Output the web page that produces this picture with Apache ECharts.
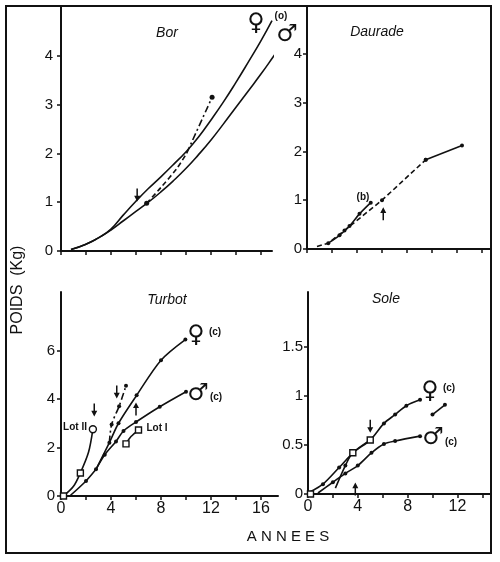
<!DOCTYPE html>
<html>
<head>
<meta charset="utf-8">
<script src="https://cdn.jsdelivr.net/npm/echarts@6/dist/echarts.min.js"></script>
<style>
html, body { margin: 0; background: #fff; }
#main { width: 500px; height: 562px; }
</style>
</head>
<body>
<div id="main"></div>
<script>
// --- data (years, kg) ---
var borFemale = [[0.8,0.03],[2,0.14],[3,0.27],[4,0.45],[5,0.74],[6,1.02],[7,1.28],[8,1.52],[9,1.77],[10,2.03],[11,2.33],[12,2.68],[13,3.05],[14,3.45],[15,3.87],[16,4.3],[16.9,4.72]];
var borMale = [[0.8,0.03],[2,0.14],[3,0.27],[4,0.43],[5,0.62],[6,0.81],[7,1.0],[8,1.21],[9,1.44],[10,1.69],[11,1.97],[12,2.27],[13,2.6],[14,2.94],[15,3.28],[16,3.62],[17,3.98],[17.6,4.2]];
var borDashed = [[6.86,0.98],[8,1.3],[9.3,1.7],[10.06,2.0]];
var borDashDot = [[10.06,2.0],[12.1,3.15]];
var borDots = [[6.86,0.98],[12.1,3.15]];
var borArrowsDown = [[6.1,1.15]];

var daurDashed = [[0.8,0.05],[1.7,0.12],[3.0,0.38],[6.0,1.0],[9.5,1.83]];
var daurB = [[1.7,0.12],[2.6,0.28],[3.4,0.47],[4.2,0.72],[5.1,0.95]];
var daurEnd = [[9.5,1.83],[12.4,2.12]];
var daurArrowsUp = [[6.1,0.72]];

var turBase = [[0.7,0],[2.0,0.62],[2.8,1.1]];
var turFemale = [[2.8,1.1],[3.87,2.2],[4.6,3.0],[6.05,4.15],[8.0,5.6],[9.95,6.45]];
var turMale = [[2.8,1.1],[3.5,1.7],[4.4,2.25],[5.0,2.68],[6.0,3.05],[7.9,3.68],[10.0,4.3]];
var turDashDot = [[3.87,2.2],[4.05,2.95],[4.65,3.7],[5.2,4.55]];
var turLotII = [[0.2,0],[1.0,0.4],[1.55,0.95],[2.2,1.8],[2.55,2.75]];
var turLotI = [[5.2,2.15],[5.6,2.45],[6.2,2.72]];
var turSquares = [[0.2,0],[1.55,0.95],[5.2,2.15],[6.2,2.72]];
var turCircles = [[2.55,2.75]];
var turArrowsDown = [[2.66,3.55],[4.46,4.29]];
var turArrowsUp = [[6.0,3.59]];

var soleFemale = [[0.15,0.02],[1.2,0.1],[2.5,0.27],[3.7,0.43],[5.0,0.55],[6.1,0.72],[7.0,0.81],[7.9,0.9],[9.0,0.96]];
var soleMale = [[0.8,0.01],[2.0,0.12],[3.0,0.21],[4.0,0.29],[5.1,0.42],[6.1,0.51],[7.0,0.54],[9.0,0.59]];
var soleLot = [[2.2,0.06],[3.0,0.29],[3.6,0.42],[5.0,0.55]];
var soleExtra = [[10.0,0.81],[11.0,0.91]];
var soleSquares = [[0.2,0],[3.6,0.42],[5.0,0.55]];
var soleArrowsDown = [[5.0,0.69]];
var soleArrowsUp = [[3.8,0.05]];

var yearTicks = [0,2,4,6,8,10,12,14,16];
var yearTicksShort = [0,2,4,6,8,10,12,14];
var turYearLabels = [0,4,8,12,16];
var soleYearLabels = [0,4,8,12];
var kgTicks = [0,1,2,3,4];
var turKgTicks = [0,2,4,6];
var soleKgTicks = [0,0.5,1,1.5];

var ink = '#111';
var arrowPath = 'path://M4,0 L6,0 L6,9 L9,9 L5,16 L1,9 L4,9 Z';

function xAx(grid, max, ticks, labels) {
    return {
        type: 'value', gridIndex: grid, min: 0, max: max,
        axisLine: { show: true, onZero: false, lineStyle: { color: ink, width: 2 } },
        axisTick: { show: true, length: 4, customValues: ticks, lineStyle: { color: ink, width: 1.5 } },
        axisLabel: { show: !!labels, customValues: labels || [], color: ink, fontSize: 16, margin: 5,
            fontFamily: 'Liberation Sans' },
        splitLine: { show: false }
    };
}
function yAx(grid, max, ticks, margin) {
    return {
        type: 'value', gridIndex: grid, min: 0, max: max,
        axisLine: { show: true, onZero: false, lineStyle: { color: ink, width: 2 } },
        axisTick: { show: true, length: 4, customValues: ticks, lineStyle: { color: ink, width: 1.5 } },
        axisLabel: { customValues: ticks, color: ink, fontSize: 15, margin: margin, fontFamily: 'Liberation Sans' },
        splitLine: { show: false }
    };
}
function line(grid, data, type, dots, smooth) {
    return {
        type: 'line', xAxisIndex: grid, yAxisIndex: grid, data: data,
        smooth: smooth === undefined ? 0.3 : smooth,
        clip: false, silent: true, animation: false,
        showSymbol: !!dots, symbol: 'circle',
        symbolSize: function (v, p) { return p.dataIndex === 0 ? 0 : 4; },
        itemStyle: { color: ink, opacity: 1 },
        lineStyle: { color: ink, width: 1.6, type: type || 'solid' }
    };
}
function marks(grid, data, symbol, size, hollow, rotate) {
    return {
        type: 'scatter', xAxisIndex: grid, yAxisIndex: grid, data: data,
        symbol: symbol, symbolSize: size, symbolRotate: rotate || 0, clip: false, silent: true,
        animation: false, z: 5,
        itemStyle: hollow ? { color: '#fff', borderColor: ink, borderWidth: 1.4, opacity: 1 }
                          : { color: ink, opacity: 1 }
    };
}
function txt(x, y, s, font, rotation) {
    return { type: 'text', x: x, y: y, rotation: rotation || 0, z: 10, silent: true,
        style: { text: s, fill: ink, font: font, textAlign: 'center', textVerticalAlign: 'middle' } };
}

var chart = echarts.init(document.getElementById('main'));
var dash = [5, 3];
var dashDot = [7, 3, 2, 3];
var titleFont = 'italic 14px "Liberation Sans"';
var noteFont = 'bold 10px "Liberation Sans"';
var sexFont = '24px "DejaVu Sans"';
chart.setOption({
    animation: false,
    grid: [
        { left: 61, top: 7, width: 211, height: 244 },
        { left: 307, top: 7, width: 184, height: 242 },
        { left: 61, top: 292, width: 217, height: 204 },
        { left: 308, top: 292, width: 183, height: 202 }
    ],
    xAxis: [
        xAx(0, 16.9, yearTicks),
        xAx(1, 14.72, yearTicksShort),
        xAx(2, 17.36, yearTicks, turYearLabels),
        xAx(3, 14.7, yearTicksShort, soleYearLabels)
    ],
    yAxis: [
        yAx(0, 5.0, kgTicks, 8),
        yAx(1, 4.96, kgTicks, 5),
        yAx(2, 8.41, turKgTicks, 6),
        yAx(3, 2.06, soleKgTicks, 5)
    ],
    series: [
        line(0, borFemale, 'solid', false, true), line(0, borMale, 'solid', false, true),
        line(0, borDashed, dash), line(0, borDashDot, dashDot),
        marks(0, borDots, 'circle', 5),
        marks(0, borArrowsDown, arrowPath, [6, 13]),

        line(1, daurDashed, dash, true, 0), line(1, daurB, 'solid', true), line(1, daurEnd, 'solid', true),
        marks(1, [[9.5,1.83]], 'circle', 4),
        marks(1, daurArrowsUp, arrowPath, [6, 13], false, 180),

        line(2, turBase, 'solid', true), line(2, turFemale, 'solid', true), line(2, turMale, 'solid', true),
        line(2, turDashDot, dashDot, true), line(2, turLotII), line(2, turLotI),
        marks(2, turSquares, 'rect', 6, true),
        marks(2, turCircles, 'circle', 7, true),
        marks(2, turArrowsDown, arrowPath, [6, 13]),
        marks(2, turArrowsUp, arrowPath, [6, 13], false, 180),

        line(3, soleFemale, 'solid', true), line(3, soleMale, 'solid', true),
        line(3, soleLot, 'solid', true), line(3, soleExtra, 'solid', true),
        marks(3, [[10.0,0.81]], 'circle', 4),
        marks(3, soleSquares, 'rect', 6, true),
        marks(3, soleArrowsDown, arrowPath, [6, 13]),
        marks(3, soleArrowsUp, arrowPath, [6, 13], false, 180)
    ],
    graphic: [
        { type: 'rect', shape: { x: 6, y: 6, width: 485, height: 547 },
          style: { fill: null, stroke: ink, lineWidth: 2 }, z: 0, silent: true },
        txt(167, 33, 'Bor', titleFont),
        txt(377, 32, 'Daurade', titleFont),
        txt(167, 300, 'Turbot', titleFont),
        txt(386, 299, 'Sole', titleFont),
        txt(256, 24, '♀', sexFont),
        txt(281, 16, '(o)', noteFont),
        txt(287, 35, '♂', sexFont),
        txt(363, 197, '(b)', noteFont),
        txt(196, 336, '♀', sexFont),
        txt(215, 332, '(c)', noteFont),
        txt(198, 394, '♂', sexFont),
        txt(216, 397, '(c)', noteFont),
        txt(75, 427, 'Lot II', noteFont),
        txt(157, 428, 'Lot I', noteFont),
        txt(430, 392, '♀', sexFont),
        txt(449, 388, '(c)', noteFont),
        txt(433, 438, '♂', sexFont),
        txt(451, 442, '(c)', noteFont),
        txt(18, 290, 'POIDS  (Kg)', '16px "Liberation Sans"', Math.PI / 2),
        txt(288, 537, 'A N N E E S', '15px "Liberation Sans"')
    ]
});
</script>
</body>
</html>
